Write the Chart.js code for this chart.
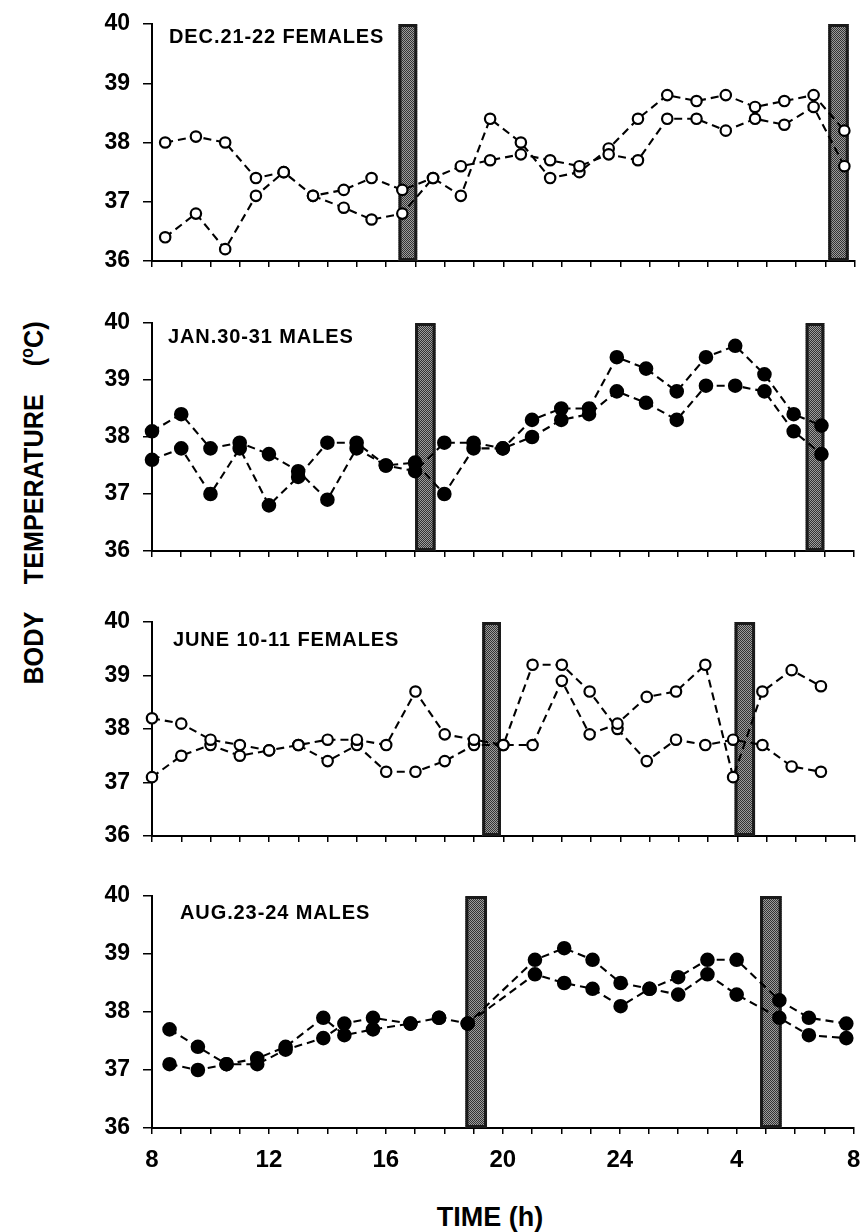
<!DOCTYPE html>
<html>
<head>
<meta charset="utf-8">
<script src="https://cdn.jsdelivr.net/npm/chart.js@4.4.1/dist/chart.umd.min.js"></script>
<style>
  html, body { margin: 0; padding: 0; background: #fff; }
  body { width: 862px; height: 1232px; position: relative; overflow: hidden; font-family: "Liberation Sans", Arial, sans-serif; }
  canvas { position: absolute; left: 0; }
  .ytitle { position: absolute; left: 33px; top: 503px; transform: translate(-50%, -50%) rotate(-90deg) scaleX(0.9);
            font-weight: bold; font-size: 28px; white-space: pre; color: #000; }
  .ytitle sup { font-size: 18px; vertical-align: 10px; }
  .xtitle { position: absolute; left: 490px; top: 1217px; transform: translate(-50%, -50%);
            font-weight: bold; font-size: 27px; color: #000; }
</style>
</head>
<body>
<div class="ytitle">BODY    TEMPERATURE    (<sup>o</sup>C)</div>
<div class="xtitle">TIME (h)</div>
<script>
// axis ticks
const hourTicks = [8, 12, 16, 20, 24, 28, 32];
const hourTickText = ['8', '12', '16', '20', '24', '4', '8'];

const panelTitles = ['DEC.21-22 FEMALES', 'JAN.30-31 MALES', 'JUNE 10-11 FEMALES', 'AUG.23-24 MALES'];

// Dec 21-22, females (open circles)
const decHours = [8.45, 9.5, 10.5, 11.55, 12.5, 13.5, 14.55, 15.5, 16.55, 17.6, 18.55, 19.55,
                  20.6, 21.6, 22.6, 23.6, 24.6, 25.6, 26.6, 27.6, 28.6, 29.6, 30.6, 31.65];
const decA = [38.0, 38.1, 38.0, 37.4, 37.5, 37.1, 37.2, 37.4, 37.2, 37.4, 37.6, 37.7,
              37.8, 37.7, 37.6, 37.8, 37.7, 38.4, 38.4, 38.2, 38.4, 38.3, 38.6, 37.6];
const decB = [36.4, 36.8, 36.2, 37.1, 37.5, 37.1, 36.9, 36.7, 36.8, 37.4, 37.1, 38.4,
              38.0, 37.4, 37.5, 37.9, 38.4, 38.8, 38.7, 38.8, 38.6, 38.7, 38.8, 38.2];
const decDarkFrom = [16.42, 31.1];
const decDarkTo = [17.06, 31.8];

// Jan 30-31, males (filled circles)
const janHours = [8, 9, 10, 11, 12, 13, 14, 15, 16, 17, 18, 19,
                  20, 21, 22, 22.95, 23.9, 24.9, 25.95, 26.95, 27.95, 28.95, 29.95, 30.9];
const janA = [38.1, 38.4, 37.8, 37.9, 37.7, 37.4, 36.9, 37.8, 37.5, 37.55, 37.0, 37.8,
              37.8, 38.0, 38.3, 38.4, 38.8, 38.6, 38.3, 38.9, 38.9, 38.8, 38.1, 37.7];
const janB = [37.6, 37.8, 37.0, 37.8, 36.8, 37.3, 37.9, 37.9, 37.5, 37.4, 37.9, 37.9,
              37.8, 38.3, 38.5, 38.5, 39.4, 39.2, 38.8, 39.4, 39.6, 39.1, 38.4, 38.2];
const janDarkFrom = [17.0, 30.36];
const janDarkTo = [17.7, 31.0];

// June 10-11, females (open circles)
const junHours = [8, 9, 10, 11, 12, 13, 14, 15, 16, 17, 18, 19,
                  20, 21, 22, 22.95, 23.9, 24.9, 25.9, 26.9, 27.85, 28.85, 29.85, 30.85];
const junA = [38.2, 38.1, 37.8, 37.7, 37.6, 37.7, 37.8, 37.8, 37.7, 38.7, 37.9, 37.8,
              37.7, 37.7, 38.9, 37.9, 38.1, 38.6, 38.7, 39.2, 37.1, 38.7, 39.1, 38.8];
const junB = [37.1, 37.5, 37.7, 37.5, 37.6, 37.7, 37.4, 37.7, 37.2, 37.2, 37.4, 37.7,
              37.7, 39.2, 39.2, 38.7, 38.0, 37.4, 37.8, 37.7, 37.8, 37.7, 37.3, 37.2];
const junDarkFrom = [19.28, 27.9];
const junDarkTo = [19.92, 28.6];

// Aug 23-24, males (filled circles)
const augHours = [8.6, 9.57, 10.55, 11.6, 12.57, 13.86, 14.58, 15.56, 16.84, 17.82, 18.8,
                  21.1, 22.1, 23.07, 24.03, 25.02, 26.0, 27.0, 28.0, 29.46, 30.47, 31.75];
const augA = [37.7, 37.4, 37.1, 37.2, 37.4, 37.9, 37.6, 37.7, 37.8, 37.9, 37.8,
              38.9, 39.1, 38.9, 38.5, 38.4, 38.6, 38.9, 38.9, 38.2, 37.9, 37.8];
const augB = [37.1, 37.0, 37.1, 37.1, 37.35, 37.55, 37.8, 37.9, 37.8, 37.9, 37.8,
              38.65, 38.5, 38.4, 38.1, 38.4, 38.3, 38.65, 38.3, 37.9, 37.6, 37.55];
const augDarkFrom = [18.72, 28.8];
const augDarkTo = [19.46, 29.54];

const FONT = '"Liberation Sans", Arial, sans-serif';

// page placement of each panel: pixel row of 40 and 36, title offset
const panels = [
  { title: panelTitles[0], hours: decHours, a: decA, b: decB, from: decDarkFrom, to: decDarkTo, filled: false, top: 24, bottom: 261, dx: 17, dy: 19 },
  { title: panelTitles[1], hours: janHours, a: janA, b: janB, from: janDarkFrom, to: janDarkTo, filled: true, top: 323, bottom: 551, dx: 16, dy: 20 },
  { title: panelTitles[2], hours: junHours, a: junA, b: junB, from: junDarkFrom, to: junDarkTo, filled: false, top: 622, bottom: 836, dx: 21, dy: 24 },
  { title: panelTitles[3], hours: augHours, a: augA, b: augB, from: augDarkFrom, to: augDarkTo, filled: true, top: 896, bottom: 1128, dx: 28, dy: 23 }
];

// stippled grey fill for the dark periods
function stipple() {
  const c = document.createElement('canvas');
  c.width = 4; c.height = 4;
  const g = c.getContext('2d');
  g.fillStyle = '#9c9c9c';
  g.fillRect(0, 0, 4, 4);
  g.fillStyle = '#333';
  for (let i = 0; i < 4; i++)
    for (let j = 0; j < 4; j++)
      if ((i + j) % 2 === 0) g.fillRect(i, j, 1, 1);
  return c;
}
const stippleCanvas = stipple();

const darkBars = {
  id: 'darkBars',
  beforeDatasetsDraw(chart, args, opts) {
    const { ctx } = chart;
    const x = chart.scales.x, y = chart.scales.y;
    const top = y.getPixelForValue(40), bot = y.getPixelForValue(36);
    ctx.save();
    ctx.fillStyle = ctx.createPattern(stippleCanvas, 'repeat');
    ctx.strokeStyle = '#1a1a1a';
    ctx.lineWidth = 3;
    opts.from.forEach((f, i) => {
      const l = x.getPixelForValue(f), r = x.getPixelForValue(opts.to[i]);
      ctx.fillRect(l, top, r - l, bot - top);
      ctx.strokeRect(l + 1.5, top + 1.5, r - l - 3, bot - top - 3);
    });
    ctx.restore();
  }
};

const panelTitle = {
  id: 'panelTitle',
  afterDatasetsDraw(chart, args, opts) {
    const { ctx, chartArea } = chart;
    ctx.save();
    ctx.font = 'bold 20px ' + FONT;
    if ('letterSpacing' in ctx) ctx.letterSpacing = '0.9px';
    ctx.fillStyle = '#000';
    ctx.textBaseline = 'alphabetic';
    ctx.fillText(opts.text, chartArea.left + opts.dx, chartArea.top + opts.dy);
    ctx.restore();
  }
};

function series(hours, temps, filled, other) {
  return {
    data: hours.map((h, i) => ({ x: h, y: temps[i] })),
    borderColor: '#000',
    borderWidth: 2.1,
    borderDash: [8, 5],
    tension: 0,
    fill: false,
    clip: false,
    pointRadius: filled ? 6.2 : 5.2,
    pointBorderWidth: 2.2,
    pointBorderColor: '#000',
    pointBackgroundColor: filled ? '#000' : '#fff',
    // where both animals share a segment, draw it only once so the dashes stay visible
    segment: other ? {
      borderColor: c => (temps[c.p0DataIndex] === other[c.p0DataIndex] &&
                         temps[c.p1DataIndex] === other[c.p1DataIndex]) ? 'rgba(0,0,0,0)' : undefined
    } : undefined
  };
}

const PAD_TOP = 20;
panels.forEach((p, idx) => {
  const last = idx === panels.length - 1;
  const xHeight = last ? 52 : 14;
  const cv = document.createElement('canvas');
  cv.width = 862;
  cv.height = (p.bottom - p.top) + PAD_TOP + xHeight;
  cv.style.top = (p.top - PAD_TOP) + 'px';
  document.body.appendChild(cv);

  new Chart(cv.getContext('2d'), {
    type: 'line',
    data: { datasets: [series(p.hours, p.a, p.filled), series(p.hours, p.b, p.filled, p.a)] },
    plugins: [darkBars, panelTitle],
    options: {
      responsive: false,
      animation: false,
      devicePixelRatio: 1,
      layout: { padding: { top: PAD_TOP, left: 0, right: 2, bottom: 0 } },
      plugins: {
        legend: { display: false },
        tooltip: { enabled: false },
        darkBars: { from: p.from, to: p.to },
        panelTitle: { text: p.title, dx: p.dx, dy: p.dy }
      },
      scales: {
        x: {
          type: 'linear', min: 8, max: 32,
          ticks: {
            stepSize: 1, autoSkip: false, maxRotation: 0, display: last,
            color: '#000', padding: 12,
            font: { family: FONT, size: 24, weight: 'bold' },
            callback: v => {
              const k = hourTicks.indexOf(v);
              return k >= 0 ? hourTickText[k] : '';
            }
          },
          grid: { drawOnChartArea: false, drawTicks: true, tickLength: 6, color: '#000', lineWidth: 1.5 },
          border: { color: '#000', width: 2 },
          afterFit: s => { s.paddingLeft = 0; s.paddingRight = 0; s.height = xHeight; }
        },
        y: {
          min: 36, max: 40,
          ticks: { stepSize: 1, color: '#000', padding: 13, font: { family: FONT, size: 23, weight: 'bold' } },
          grid: { drawOnChartArea: false, drawTicks: true, tickLength: 9, color: '#000', lineWidth: 1.5 },
          border: { color: '#000', width: 2 },
          afterFit: s => { s.width = 152; s.paddingTop = 0; s.paddingBottom = 0; }
        }
      }
    }
  });
});
</script>
</body>
</html>
